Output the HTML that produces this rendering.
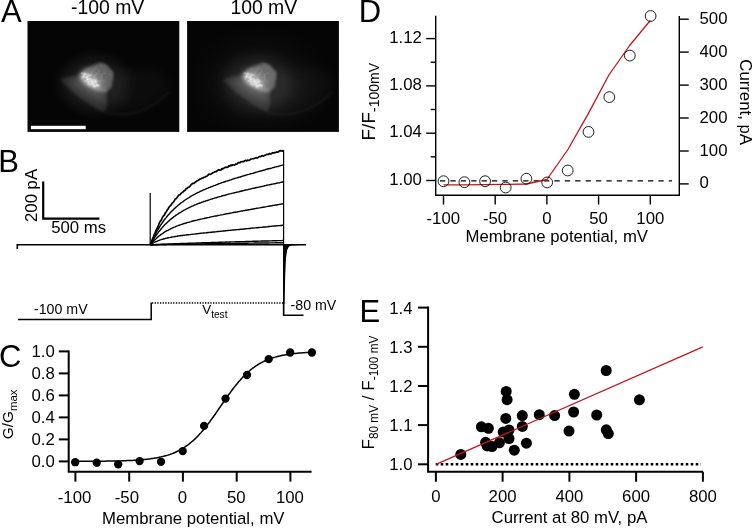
<!DOCTYPE html>
<html><head><meta charset="utf-8"><title>Figure</title>
<style>
html,body{margin:0;padding:0;background:#fff;}
body{width:754px;height:528px;overflow:hidden;}
svg{display:block;}
text{font-family:"Liberation Sans",sans-serif;fill:#000;}
.t{font-size:16.75px;}
.pl{font-size:31px;}
.ax{stroke:#000;stroke-width:2;fill:none;stroke-linecap:square;}
.axd{stroke:#000;stroke-width:1.4;fill:none;stroke-linecap:butt;}
</style></head><body>
<svg width="754" height="528" viewBox="0 0 754 528">
<defs>
<filter id="b1" x="-50%" y="-50%" width="200%" height="200%"><feGaussianBlur stdDeviation="1.2"/></filter>
<filter id="b2" x="-50%" y="-50%" width="200%" height="200%"><feGaussianBlur stdDeviation="3"/></filter>
<filter id="b3" x="-50%" y="-50%" width="200%" height="200%"><feGaussianBlur stdDeviation="7"/></filter>
<filter id="b4" x="-50%" y="-50%" width="200%" height="200%"><feGaussianBlur stdDeviation="16"/></filter>
<filter id="b5" x="-50%" y="-50%" width="200%" height="200%"><feGaussianBlur stdDeviation="1.8"/></filter>
<filter id="b6" x="-50%" y="-50%" width="200%" height="200%"><feGaussianBlur stdDeviation="0.85"/></filter>
<filter id="grain" x="-50%" y="-50%" width="200%" height="200%"><feGaussianBlur in="SourceGraphic" stdDeviation="1.2" result="sg"/><feTurbulence type="fractalNoise" baseFrequency="0.38" numOctaves="2" seed="7" result="n"/><feColorMatrix in="n" type="matrix" values="0 0 0 0 1  0 0 0 0 1  0 0 0 0 1  5 0 0 0 -1.9" result="a"/><feComposite in="a" in2="sg" operator="in" result="c"/><feGaussianBlur in="c" stdDeviation="0.45"/></filter>
<filter id="grain2" x="-50%" y="-50%" width="200%" height="200%"><feGaussianBlur in="SourceGraphic" stdDeviation="2" result="sg"/><feTurbulence type="fractalNoise" baseFrequency="0.3" numOctaves="2" seed="11" result="n"/><feColorMatrix in="n" type="matrix" values="0 0 0 0 1  0 0 0 0 1  0 0 0 0 1  4 0 0 0 -1.6" result="a"/><feComposite in="a" in2="sg" operator="in" result="c"/><feGaussianBlur in="c" stdDeviation="0.7"/></filter>
<filter id="b0" x="-50%" y="-50%" width="200%" height="200%"><feGaussianBlur stdDeviation="0.6"/></filter>
<clipPath id="c1"><rect x="27.5" y="21" width="151.8" height="110.9"/></clipPath>
<clipPath id="c2"><rect x="187.1" y="21" width="151.8" height="110.9"/></clipPath>
<g id="cell">
 <ellipse cx="95" cy="84" rx="34" ry="27" fill="#fff" opacity="0.085" filter="url(#b3)"/>
 <path d="M104.7,112.5 Q140,121 169,92 L169,75 Q140,62 113,72 Z" fill="#fff" opacity="0.03" filter="url(#b3)"/>
 <path d="M104.7,112.5 Q140,121 169,92" stroke="#fff" stroke-width="2.2" fill="none" opacity="0.045" filter="url(#b1)"/>
 <path d="M59.9,79.1 L68.5,77 L78.4,74.9 L92,80 L106.8,90 L107.2,104 L104.7,112.5 L95.5,108.2 L85.5,101.8 L72.7,92.6 L64.2,84.1 Z" fill="#fff" opacity="0.115" filter="url(#b5)"/>
 <path d="M70,80 L84,77 L105,91 L103.5,102 L88,96 L77,89 Z" fill="#fff" opacity="0.13" filter="url(#b2)"/>
 <path d="M78.4,74.1 L86.2,67.8 L99.7,62.8 L106.1,64.9 L113.2,72.7 L111.8,86.9 L106.1,92.6 L96.9,91.2 L85.5,85.5 L79.8,79.8 Z" fill="#fff" opacity="0.30" filter="url(#b5)"/>
 <path d="M99.7,63.3 L106.1,65.5 L112.6,73 L111.9,80" stroke="#fff" stroke-width="1.6" fill="none" opacity="0.14" filter="url(#b1)"/>
 <ellipse cx="92" cy="79.5" rx="13" ry="8" transform="rotate(36 92 79.5)" fill="#fff" opacity="0.26" filter="url(#b2)"/>
 <ellipse cx="90.5" cy="80.5" rx="9.5" ry="4.2" transform="rotate(38 90.5 80.5)" fill="#fff" opacity="0.30" filter="url(#b5)"/>
 <ellipse cx="90.5" cy="80.3" rx="11" ry="4.6" transform="rotate(38 90.5 80.3)" fill="#fff" opacity="0.6" filter="url(#grain)"/>
 <ellipse cx="98" cy="75" rx="11" ry="9" fill="#fff" opacity="0.10" filter="url(#grain2)"/>
 <g fill="#fff" filter="url(#b0)" opacity="0.55">
 <circle cx="82" cy="73.4" r="1.2" opacity="0.55"/>
 <circle cx="83.6" cy="76.3" r="1.0" opacity="0.55"/>
 <circle cx="81.6" cy="77.8" r="0.8" opacity="0.4"/>
 <circle cx="84.9" cy="74.1" r="0.9" opacity="0.4"/>
 <circle cx="87.2" cy="79.1" r="1.3" opacity="0.6"/>
 <circle cx="89.8" cy="81.5" r="1.5" opacity="0.7"/>
 <circle cx="88.4" cy="84.1" r="0.9" opacity="0.45"/>
 <circle cx="92.4" cy="83.2" r="1.6" opacity="0.75"/>
 <circle cx="94" cy="86" r="1.2" opacity="0.6"/>
 <circle cx="96.7" cy="84.6" r="1.3" opacity="0.6"/>
 <circle cx="99" cy="86.2" r="0.9" opacity="0.4"/>
 <circle cx="91" cy="78.6" r="0.8" opacity="0.35"/>
 <circle cx="95.2" cy="82" r="0.8" opacity="0.35"/>
 </g>
</g>
</defs>
<rect width="754" height="528" fill="#fff"/>

<g id="panelA">
<text class="pl" x="1.1" y="21.7">A</text>
<text x="107.6" y="14.3" text-anchor="middle" style="font-size:19.4px">-100 mV</text>
<text x="263.8" y="14.3" text-anchor="middle" style="font-size:19.4px">100 mV</text>
<rect x="27.5" y="21" width="151.8" height="110.9" fill="#050505"/>
<g clip-path="url(#c1)"><use href="#cell"/></g>
<rect x="30.9" y="125.8" width="54.8" height="3.4" fill="#fff"/>
<rect x="187.1" y="21" width="151.8" height="110.9" fill="#050505"/>
<g clip-path="url(#c2)"><ellipse cx="260" cy="84" rx="50" ry="38" fill="#fff" opacity="0.05" filter="url(#b4)"/><use href="#cell" x="163"/></g>
</g>
<g id="panelB">
<text class="pl" x="-1.7" y="172.1">B</text>
<path d="M43.2,181.6 V218.6 H99.4" stroke="#000" stroke-width="2.2" fill="none"/>
<text class="t" transform="translate(37.1,222) rotate(-90)">200 pA</text>
<text class="t" x="51.2" y="233.4">500 ms</text>
<path d="M150.3,244.80 L151.3,242.11 L152.3,239.52 L153.3,237.02 L154.3,234.33 L155.3,232.34 L156.3,229.92 L157.3,228.02 L158.3,225.96 L159.2,223.34 L160.2,221.34 L161.2,220.38 L162.2,217.94 L163.2,216.17 L164.2,215.33 L165.2,213.12 L166.2,211.96 L167.2,210.04 L168.2,208.76 L169.2,206.80 L170.2,205.96 L171.2,204.89 L172.2,203.23 L173.2,202.23 L174.2,200.95 L175.2,199.12 L176.1,198.75 L177.1,197.47 L178.1,196.10 L179.1,194.77 L180.1,194.69 L181.1,193.29 L182.1,192.63 L183.1,191.89 L184.1,190.82 L185.1,190.19 L186.1,188.78 L187.1,188.41 L188.1,187.23 L189.1,187.00 L190.1,186.19 L191.1,184.60 L192.0,183.93 L193.0,183.33 L194.0,183.48 L195.0,182.24 L196.0,181.81 L197.0,180.82 L198.0,180.44 L199.0,179.71 L200.0,179.09 L201.0,178.77 L202.0,178.21 L203.0,178.02 L204.0,177.24 L205.0,176.99 L206.0,176.40 L207.0,176.04 L208.0,175.20 L208.9,174.15 L209.9,174.45 L210.9,174.10 L211.9,173.57 L212.9,172.75 L213.9,172.47 L214.9,171.49 L215.9,171.74 L216.9,171.04 L217.9,170.31 L218.9,169.65 L219.9,170.12 L220.9,169.88 L221.9,168.50 L222.9,168.89 L223.9,168.09 L224.9,167.43 L225.8,167.21 L226.8,167.37 L227.8,167.13 L228.8,165.86 L229.8,166.13 L230.8,165.16 L231.8,165.55 L232.8,164.79 L233.8,165.05 L234.8,164.83 L235.8,163.98 L236.8,164.19 L237.8,163.11 L238.8,162.53 L239.8,162.79 L240.8,161.84 L241.8,161.71 L242.7,161.63 L243.7,161.55 L244.7,160.74 L245.7,160.31 L246.7,160.92 L247.7,160.01 L248.7,160.42 L249.7,160.05 L250.7,159.19 L251.7,158.99 L252.7,158.76 L253.7,158.61 L254.7,158.26 L255.7,157.94 L256.7,157.72 L257.7,157.79 L258.6,157.03 L259.6,156.67 L260.6,156.70 L261.6,155.89 L262.6,155.69 L263.6,156.16 L264.6,155.38 L265.6,155.13 L266.6,154.27 L267.6,154.44 L268.6,154.35 L269.6,153.47 L270.6,153.85 L271.6,153.60 L272.6,152.71 L273.6,153.06 L274.6,152.62 L275.5,152.59 L276.5,151.97 L277.5,152.09 L278.5,151.87 L279.5,150.82 L280.5,150.60 L281.5,151.01 L282.5,151.07 L283.5,150.03" stroke="#000" stroke-width="1.7" fill="none" stroke-linejoin="round"/>
<path d="M150.3,244.80 L151.3,242.55 L152.3,240.39 L153.3,238.31 L154.3,236.31 L155.3,234.42 L156.3,232.51 L157.3,230.75 L158.3,229.03 L159.2,227.41 L160.2,225.88 L161.2,224.29 L162.2,222.85 L163.2,221.53 L164.2,219.99 L165.2,218.81 L166.2,217.59 L167.2,216.27 L168.2,215.07 L169.2,214.07 L170.2,212.84 L171.2,211.76 L172.2,210.80 L173.2,209.87 L174.2,208.77 L175.2,207.89 L176.1,206.99 L177.1,206.24 L178.1,205.30 L179.1,204.59 L180.1,203.63 L181.1,202.89 L182.1,202.22 L183.1,201.55 L184.1,200.74 L185.1,200.00 L186.1,199.30 L187.1,198.75 L188.1,198.03 L189.1,197.56 L190.1,196.97 L191.1,196.22 L192.0,195.67 L193.0,195.23 L194.0,194.65 L195.0,194.15 L196.0,193.52 L197.0,192.95 L198.0,192.49 L199.0,192.12 L200.0,191.51 L201.0,191.06 L202.0,190.61 L203.0,190.16 L204.0,189.71 L205.0,189.39 L206.0,188.78 L207.0,188.32 L208.0,188.12 L208.9,187.70 L209.9,187.32 L210.9,186.79 L211.9,186.52 L212.9,186.13 L213.9,185.58 L214.9,185.32 L215.9,184.97 L216.9,184.57 L217.9,184.17 L218.9,183.75 L219.9,183.41 L220.9,183.03 L221.9,182.65 L222.9,182.43 L223.9,182.02 L224.9,181.81 L225.8,181.29 L226.8,181.17 L227.8,180.79 L228.8,180.52 L229.8,180.19 L230.8,179.87 L231.8,179.48 L232.8,179.03 L233.8,178.89 L234.8,178.44 L235.8,178.17 L236.8,177.95 L237.8,177.61 L238.8,177.28 L239.8,177.11 L240.8,176.73 L241.8,176.37 L242.7,176.05 L243.7,175.90 L244.7,175.52 L245.7,175.30 L246.7,174.91 L247.7,174.58 L248.7,174.38 L249.7,174.16 L250.7,173.72 L251.7,173.59 L252.7,173.33 L253.7,173.03 L254.7,172.75 L255.7,172.28 L256.7,172.15 L257.7,171.93 L258.6,171.45 L259.6,171.23 L260.6,170.96 L261.6,170.75 L262.6,170.45 L263.6,170.19 L264.6,169.99 L265.6,169.53 L266.6,169.28 L267.6,169.03 L268.6,168.76 L269.6,168.48 L270.6,168.43 L271.6,168.13 L272.6,167.68 L273.6,167.52 L274.6,167.21 L275.5,166.94 L276.5,166.69 L277.5,166.50 L278.5,166.22 L279.5,165.91 L280.5,165.61 L281.5,165.38 L282.5,165.07 L283.5,164.91" stroke="#000" stroke-width="1.4" fill="none" stroke-linejoin="round"/>
<path d="M150.3,244.80 L151.3,243.03 L152.3,241.33 L153.3,239.70 L154.3,238.18 L155.3,236.61 L156.3,235.10 L157.3,233.73 L158.3,232.43 L159.2,231.18 L160.2,229.98 L161.2,228.70 L162.2,227.64 L163.2,226.49 L164.2,225.39 L165.2,224.35 L166.2,223.38 L167.2,222.46 L168.2,221.48 L169.2,220.64 L170.2,219.74 L171.2,218.86 L172.2,218.11 L173.2,217.36 L174.2,216.49 L175.2,215.83 L176.1,215.12 L177.1,214.53 L178.1,213.88 L179.1,213.12 L180.1,212.60 L181.1,211.97 L182.1,211.28 L183.1,210.75 L184.1,210.12 L185.1,209.72 L186.1,209.16 L187.1,208.70 L188.1,208.18 L189.1,207.67 L190.1,207.21 L191.1,206.71 L192.0,206.17 L193.0,205.82 L194.0,205.28 L195.0,204.88 L196.0,204.60 L197.0,204.05 L198.0,203.66 L199.0,203.28 L200.0,203.05 L201.0,202.54 L202.0,202.15 L203.0,201.95 L204.0,201.45 L205.0,201.25 L206.0,200.88 L207.0,200.58 L208.0,200.27 L208.9,199.87 L209.9,199.60 L210.9,199.13 L211.9,198.97 L212.9,198.61 L213.9,198.35 L214.9,197.93 L215.9,197.77 L216.9,197.52 L217.9,197.05 L218.9,196.82 L219.9,196.59 L220.9,196.37 L221.9,195.98 L222.9,195.69 L223.9,195.44 L224.9,195.24 L225.8,195.01 L226.8,194.67 L227.8,194.41 L228.8,194.16 L229.8,193.89 L230.8,193.65 L231.8,193.34 L232.8,193.17 L233.8,193.02 L234.8,192.66 L235.8,192.48 L236.8,192.12 L237.8,191.99 L238.8,191.76 L239.8,191.50 L240.8,191.23 L241.8,190.99 L242.7,190.79 L243.7,190.61 L244.7,190.22 L245.7,189.98 L246.7,189.88 L247.7,189.69 L248.7,189.38 L249.7,189.14 L250.7,188.96 L251.7,188.63 L252.7,188.42 L253.7,188.19 L254.7,188.04 L255.7,187.76 L256.7,187.52 L257.7,187.40 L258.6,187.23 L259.6,186.88 L260.6,186.74 L261.6,186.46 L262.6,186.33 L263.6,186.06 L264.6,185.78 L265.6,185.56 L266.6,185.30 L267.6,185.18 L268.6,184.94 L269.6,184.69 L270.6,184.51 L271.6,184.29 L272.6,184.17 L273.6,183.83 L274.6,183.79 L275.5,183.47 L276.5,183.29 L277.5,183.05 L278.5,182.91 L279.5,182.70 L280.5,182.44 L281.5,182.21 L282.5,182.05 L283.5,181.87" stroke="#000" stroke-width="1.4" fill="none" stroke-linejoin="round"/>
<path d="M150.3,244.80 L151.3,243.60 L152.3,242.45 L153.3,241.37 L154.3,240.31 L155.3,239.40 L156.3,238.51 L157.3,237.52 L158.3,236.63 L159.2,235.82 L160.2,235.15 L161.2,234.41 L162.2,233.76 L163.2,233.07 L164.2,232.31 L165.2,231.68 L166.2,231.11 L167.2,230.53 L168.2,230.09 L169.2,229.60 L170.2,229.11 L171.2,228.50 L172.2,228.16 L173.2,227.60 L174.2,227.19 L175.2,226.84 L176.1,226.31 L177.1,225.92 L178.1,225.69 L179.1,225.22 L180.1,224.87 L181.1,224.57 L182.1,224.26 L183.1,223.80 L184.1,223.55 L185.1,223.26 L186.1,222.97 L187.1,222.62 L188.1,222.41 L189.1,222.20 L190.1,221.81 L191.1,221.57 L192.0,221.22 L193.0,220.99 L194.0,220.81 L195.0,220.45 L196.0,220.36 L197.0,220.12 L198.0,219.72 L199.0,219.65 L200.0,219.31 L201.0,219.16 L202.0,218.93 L203.0,218.61 L204.0,218.47 L205.0,218.25 L206.0,218.06 L207.0,217.74 L208.0,217.62 L208.9,217.45 L209.9,217.19 L210.9,216.95 L211.9,216.66 L212.9,216.54 L213.9,216.31 L214.9,216.18 L215.9,215.97 L216.9,215.75 L217.9,215.48 L218.9,215.37 L219.9,215.18 L220.9,214.89 L221.9,214.84 L222.9,214.60 L223.9,214.30 L224.9,214.28 L225.8,213.93 L226.8,213.78 L227.8,213.67 L228.8,213.46 L229.8,213.26 L230.8,213.09 L231.8,212.87 L232.8,212.65 L233.8,212.44 L234.8,212.24 L235.8,212.18 L236.8,212.01 L237.8,211.78 L238.8,211.64 L239.8,211.38 L240.8,211.18 L241.8,211.03 L242.7,210.94 L243.7,210.60 L244.7,210.51 L245.7,210.28 L246.7,210.20 L247.7,209.94 L248.7,209.76 L249.7,209.60 L250.7,209.45 L251.7,209.31 L252.7,209.05 L253.7,208.98 L254.7,208.65 L255.7,208.51 L256.7,208.30 L257.7,208.12 L258.6,208.08 L259.6,207.89 L260.6,207.61 L261.6,207.44 L262.6,207.31 L263.6,207.20 L264.6,207.04 L265.6,206.85 L266.6,206.65 L267.6,206.38 L268.6,206.26 L269.6,206.05 L270.6,205.94 L271.6,205.77 L272.6,205.53 L273.6,205.37 L274.6,205.30 L275.5,204.98 L276.5,204.96 L277.5,204.81 L278.5,204.65 L279.5,204.36 L280.5,204.22 L281.5,204.06 L282.5,203.90 L283.5,203.80" stroke="#000" stroke-width="1.4" fill="none" stroke-linejoin="round"/>
<path d="M150.3,244.80 L151.3,244.13 L152.3,243.52 L153.3,242.95 L154.3,242.45 L155.3,241.89 L156.3,241.53 L157.3,241.04 L158.3,240.66 L159.2,240.31 L160.2,239.85 L161.2,239.65 L162.2,239.32 L163.2,239.01 L164.2,238.74 L165.2,238.48 L166.2,238.19 L167.2,238.02 L168.2,237.72 L169.2,237.59 L170.2,237.41 L171.2,237.19 L172.2,237.02 L173.2,236.91 L174.2,236.73 L175.2,236.45 L176.1,236.40 L177.1,236.22 L178.1,235.98 L179.1,235.88 L180.1,235.72 L181.1,235.56 L182.1,235.50 L183.1,235.43 L184.1,235.21 L185.1,235.17 L186.1,235.02 L187.1,234.81 L188.1,234.80 L189.1,234.65 L190.1,234.58 L191.1,234.43 L192.0,234.32 L193.0,234.15 L194.0,234.11 L195.0,234.02 L196.0,233.90 L197.0,233.72 L198.0,233.66 L199.0,233.51 L200.0,233.35 L201.0,233.23 L202.0,233.13 L203.0,233.05 L204.0,232.94 L205.0,232.89 L206.0,232.81 L207.0,232.69 L208.0,232.56 L208.9,232.50 L209.9,232.34 L210.9,232.26 L211.9,232.21 L212.9,232.05 L213.9,231.92 L214.9,231.93 L215.9,231.80 L216.9,231.64 L217.9,231.54 L218.9,231.47 L219.9,231.38 L220.9,231.22 L221.9,231.09 L222.9,231.02 L223.9,231.01 L224.9,230.81 L225.8,230.76 L226.8,230.62 L227.8,230.52 L228.8,230.42 L229.8,230.36 L230.8,230.22 L231.8,230.10 L232.8,230.02 L233.8,229.93 L234.8,229.88 L235.8,229.72 L236.8,229.61 L237.8,229.58 L238.8,229.48 L239.8,229.43 L240.8,229.23 L241.8,229.19 L242.7,229.09 L243.7,228.93 L244.7,228.98 L245.7,228.77 L246.7,228.65 L247.7,228.62 L248.7,228.47 L249.7,228.45 L250.7,228.31 L251.7,228.17 L252.7,228.07 L253.7,228.08 L254.7,227.91 L255.7,227.90 L256.7,227.75 L257.7,227.73 L258.6,227.53 L259.6,227.43 L260.6,227.34 L261.6,227.33 L262.6,227.20 L263.6,227.06 L264.6,226.93 L265.6,226.93 L266.6,226.88 L267.6,226.72 L268.6,226.53 L269.6,226.44 L270.6,226.36 L271.6,226.28 L272.6,226.16 L273.6,226.07 L274.6,226.07 L275.5,226.01 L276.5,225.81 L277.5,225.84 L278.5,225.66 L279.5,225.62 L280.5,225.55 L281.5,225.46 L282.5,225.22 L283.5,225.17" stroke="#000" stroke-width="1.4" fill="none" stroke-linejoin="round"/>
<path d="M150.3,244.80 L151.3,244.75 L152.3,244.71 L153.3,244.66 L154.3,244.63 L155.3,244.62 L156.3,244.49 L157.3,244.47 L158.3,244.48 L159.2,244.36 L160.2,244.35 L161.2,244.30 L162.2,244.30 L163.2,244.28 L164.2,244.16 L165.2,244.18 L166.2,244.14 L167.2,244.11 L168.2,244.04 L169.2,244.04 L170.2,243.94 L171.2,243.91 L172.2,243.85 L173.2,243.87 L174.2,243.80 L175.2,243.74 L176.1,243.70 L177.1,243.72 L178.1,243.67 L179.1,243.64 L180.1,243.57 L181.1,243.55 L182.1,243.48 L183.1,243.50 L184.1,243.39 L185.1,243.40 L186.1,243.40 L187.1,243.35 L188.1,243.26 L189.1,243.24 L190.1,243.27 L191.1,243.21 L192.0,243.20 L193.0,243.17 L194.0,243.09 L195.0,243.10 L196.0,243.06 L197.0,242.98 L198.0,242.95 L199.0,242.89 L200.0,242.89 L201.0,242.91 L202.0,242.80 L203.0,242.81 L204.0,242.73 L205.0,242.70 L206.0,242.72 L207.0,242.65 L208.0,242.60 L208.9,242.58 L209.9,242.60 L210.9,242.56 L211.9,242.47 L212.9,242.46 L213.9,242.51 L214.9,242.40 L215.9,242.41 L216.9,242.36 L217.9,242.37 L218.9,242.32 L219.9,242.31 L220.9,242.25 L221.9,242.19 L222.9,242.16 L223.9,242.12 L224.9,242.16 L225.8,242.06 L226.8,242.02 L227.8,242.09 L228.8,241.98 L229.8,242.02 L230.8,241.91 L231.8,241.92 L232.8,241.87 L233.8,241.90 L234.8,241.85 L235.8,241.82 L236.8,241.81 L237.8,241.79 L238.8,241.71 L239.8,241.71 L240.8,241.66 L241.8,241.60 L242.7,241.64 L243.7,241.59 L244.7,241.59 L245.7,241.50 L246.7,241.50 L247.7,241.47 L248.7,241.47 L249.7,241.37 L250.7,241.37 L251.7,241.36 L252.7,241.29 L253.7,241.31 L254.7,241.30 L255.7,241.24 L256.7,241.24 L257.7,241.21 L258.6,241.14 L259.6,241.13 L260.6,241.16 L261.6,241.07 L262.6,241.05 L263.6,240.99 L264.6,240.98 L265.6,240.94 L266.6,240.99 L267.6,240.95 L268.6,240.93 L269.6,240.92 L270.6,240.85 L271.6,240.86 L272.6,240.79 L273.6,240.76 L274.6,240.78 L275.5,240.75 L276.5,240.73 L277.5,240.66 L278.5,240.66 L279.5,240.60 L280.5,240.63 L281.5,240.59 L282.5,240.51 L283.5,240.54" stroke="#000" stroke-width="1.4" fill="none" stroke-linejoin="round"/>
<path d="M150.3,244.80 L151.3,244.78 L152.3,244.76 L153.3,244.73 L154.3,244.68 L155.3,244.65 L156.3,244.69 L157.3,244.63 L158.3,244.63 L159.2,244.62 L160.2,244.54 L161.2,244.59 L162.2,244.52 L163.2,244.52 L164.2,244.49 L165.2,244.51 L166.2,244.49 L167.2,244.42 L168.2,244.39 L169.2,244.39 L170.2,244.38 L171.2,244.33 L172.2,244.32 L173.2,244.36 L174.2,244.33 L175.2,244.34 L176.1,244.33 L177.1,244.30 L178.1,244.23 L179.1,244.19 L180.1,244.19 L181.1,244.18 L182.1,244.17 L183.1,244.16 L184.1,244.12 L185.1,244.15 L186.1,244.08 L187.1,244.08 L188.1,244.11 L189.1,244.08 L190.1,244.01 L191.1,243.99 L192.0,244.03 L193.0,243.94 L194.0,243.93 L195.0,243.96 L196.0,243.94 L197.0,243.89 L198.0,243.86 L199.0,243.86 L200.0,243.90 L201.0,243.85 L202.0,243.89 L203.0,243.85 L204.0,243.86 L205.0,243.75 L206.0,243.75 L207.0,243.71 L208.0,243.74 L208.9,243.72 L209.9,243.67 L210.9,243.71 L211.9,243.65 L212.9,243.65 L213.9,243.63 L214.9,243.67 L215.9,243.62 L216.9,243.59 L217.9,243.55 L218.9,243.58 L219.9,243.58 L220.9,243.57 L221.9,243.58 L222.9,243.56 L223.9,243.48 L224.9,243.46 L225.8,243.51 L226.8,243.50 L227.8,243.45 L228.8,243.47 L229.8,243.43 L230.8,243.39 L231.8,243.36 L232.8,243.33 L233.8,243.38 L234.8,243.39 L235.8,243.38 L236.8,243.32 L237.8,243.33 L238.8,243.34 L239.8,243.32 L240.8,243.28 L241.8,243.25 L242.7,243.24 L243.7,243.20 L244.7,243.18 L245.7,243.22 L246.7,243.24 L247.7,243.18 L248.7,243.15 L249.7,243.13 L250.7,243.13 L251.7,243.15 L252.7,243.10 L253.7,243.14 L254.7,243.04 L255.7,243.05 L256.7,243.05 L257.7,243.03 L258.6,243.06 L259.6,243.05 L260.6,243.04 L261.6,243.00 L262.6,242.93 L263.6,242.97 L264.6,242.95 L265.6,242.93 L266.6,242.90 L267.6,242.93 L268.6,242.94 L269.6,242.84 L270.6,242.88 L271.6,242.84 L272.6,242.84 L273.6,242.87 L274.6,242.86 L275.5,242.82 L276.5,242.76 L277.5,242.82 L278.5,242.73 L279.5,242.74 L280.5,242.77 L281.5,242.71 L282.5,242.69 L283.5,242.74" stroke="#000" stroke-width="1.4" fill="none" stroke-linejoin="round"/>
<path d="M17.3,249 V244.8 H306" stroke="#000" stroke-width="1.6" fill="none"/>
<path d="M150.2,193 V245" stroke="#000" stroke-width="1.2" fill="none"/>
<path d="M283.6,150 V316" stroke="#000" stroke-width="1.2" fill="none"/>
<path d="M283.2,245 L283.6,304 L284.6,304 L285.2,275 L286,258 L287.2,250 L289,246.6 L292,245.4 L300,245 Z" fill="#000"/>
<path d="M18,319.6 H151.2 V302.6" stroke="#000" stroke-width="1.5" fill="none"/>
<path d="M152,303 H283.6" stroke="#000" stroke-width="1.3" fill="none" stroke-dasharray="1.3 1.35"/>
<path d="M283.6,303 V315.2 H303.5" stroke="#000" stroke-width="1.5" fill="none"/>
<text class="t" x="34" y="313.8" style="font-size:14.2px">-100 mV</text>
<text class="t" x="290.6" y="310.2" style="font-size:14.2px">-80 mV</text>
<text class="t" x="202.2" y="314.2" style="font-size:13.4px">V<tspan dy="3.6" style="font-size:10.2px">test</tspan></text>
</g>
<g id="panelC">
<text class="pl" x="-0.9" y="366.6">C</text>
<path class="ax" d="M68.7,351.4 V471.8 H310.6"/>
<path class="ax" d="M58.8,461.4 H68.7" style="stroke-linecap:butt"/>
<text class="t" x="54.8" y="467.1" text-anchor="end">0.0</text>
<path class="ax" d="M58.8,439.4 H68.7" style="stroke-linecap:butt"/>
<text class="t" x="54.8" y="445.1" text-anchor="end">0.2</text>
<path class="ax" d="M58.8,417.4 H68.7" style="stroke-linecap:butt"/>
<text class="t" x="54.8" y="423.1" text-anchor="end">0.4</text>
<path class="ax" d="M58.8,395.4 H68.7" style="stroke-linecap:butt"/>
<text class="t" x="54.8" y="401.1" text-anchor="end">0.6</text>
<path class="ax" d="M58.8,373.4 H68.7" style="stroke-linecap:butt"/>
<text class="t" x="54.8" y="379.1" text-anchor="end">0.8</text>
<path class="ax" d="M58.8,351.4 H68.7" style="stroke-linecap:butt"/>
<text class="t" x="54.8" y="357.1" text-anchor="end">1.0</text>
<path class="ax" d="M75.4,471.8 V481.6" style="stroke-linecap:butt"/>
<text class="t" x="74.5" y="502.6" text-anchor="middle">-100</text>
<path class="ax" d="M129.2,471.8 V481.6" style="stroke-linecap:butt"/>
<text class="t" x="126.9" y="502.6" text-anchor="middle">-50</text>
<path class="ax" d="M182.9,471.8 V481.6" style="stroke-linecap:butt"/>
<text class="t" x="182.4" y="502.6" text-anchor="middle">0</text>
<path class="ax" d="M236.7,471.8 V481.6" style="stroke-linecap:butt"/>
<text class="t" x="236.2" y="502.6" text-anchor="middle">50</text>
<path class="ax" d="M290.4,471.8 V481.6" style="stroke-linecap:butt"/>
<text class="t" x="289.9" y="502.6" text-anchor="middle">100</text>
<text class="t" x="193.3" y="523.5" text-anchor="middle">Membrane potential, mV</text>
<text class="t" transform="translate(13.4,439.2) rotate(-90)" style="font-size:15.4px">G/G<tspan dy="3.7" style="font-size:11.3px">max</tspan></text>
<path d="M75.4,461.4 L76.5,461.3 L77.6,461.3 L78.6,461.3 L79.7,461.3 L80.8,461.3 L81.9,461.3 L82.9,461.3 L84.0,461.3 L85.1,461.3 L86.2,461.3 L87.2,461.3 L88.3,461.3 L89.4,461.3 L90.5,461.3 L91.5,461.3 L92.6,461.3 L93.7,461.3 L94.8,461.3 L95.8,461.3 L96.9,461.2 L98.0,461.2 L99.1,461.2 L100.1,461.2 L101.2,461.2 L102.3,461.2 L103.4,461.2 L104.4,461.2 L105.5,461.2 L106.6,461.1 L107.7,461.1 L108.7,461.1 L109.8,461.1 L110.9,461.1 L112.0,461.1 L113.0,461.0 L114.1,461.0 L115.2,461.0 L116.3,461.0 L117.3,460.9 L118.4,460.9 L119.5,460.9 L120.6,460.9 L121.6,460.8 L122.7,460.8 L123.8,460.8 L124.9,460.7 L125.9,460.7 L127.0,460.6 L128.1,460.6 L129.2,460.6 L130.2,460.5 L131.3,460.4 L132.4,460.4 L133.5,460.3 L134.5,460.3 L135.6,460.2 L136.7,460.1 L137.8,460.1 L138.8,460.0 L139.9,459.9 L141.0,459.8 L142.1,459.7 L143.1,459.6 L144.2,459.5 L145.3,459.4 L146.4,459.3 L147.4,459.2 L148.5,459.1 L149.6,458.9 L150.7,458.8 L151.7,458.6 L152.8,458.5 L153.9,458.3 L155.0,458.1 L156.0,457.9 L157.1,457.7 L158.2,457.5 L159.2,457.3 L160.3,457.1 L161.4,456.8 L162.5,456.6 L163.6,456.3 L164.6,456.0 L165.7,455.7 L166.8,455.4 L167.8,455.1 L168.9,454.7 L170.0,454.4 L171.1,454.0 L172.2,453.6 L173.2,453.2 L174.3,452.7 L175.4,452.3 L176.5,451.8 L177.5,451.2 L178.6,450.7 L179.7,450.1 L180.8,449.6 L181.8,448.9 L182.9,448.3 L184.0,447.6 L185.1,446.9 L186.1,446.2 L187.2,445.4 L188.3,444.6 L189.3,443.8 L190.4,442.9 L191.5,442.0 L192.6,441.1 L193.7,440.1 L194.7,439.1 L195.8,438.1 L196.9,437.0 L198.0,435.9 L199.0,434.8 L200.1,433.6 L201.2,432.4 L202.2,431.2 L203.3,429.9 L204.4,428.6 L205.5,427.3 L206.6,425.9 L207.6,424.6 L208.7,423.1 L209.8,421.7 L210.8,420.2 L211.9,418.8 L213.0,417.3 L214.1,415.7 L215.2,414.2 L216.2,412.7 L217.3,411.1 L218.4,409.5 L219.4,408.0 L220.5,406.4 L221.6,404.8 L222.7,403.3 L223.8,401.7 L224.8,400.1 L225.9,398.6 L227.0,397.1 L228.1,395.5 L229.1,394.0 L230.2,392.6 L231.3,391.1 L232.3,389.7 L233.4,388.2 L234.5,386.9 L235.6,385.5 L236.7,384.2 L237.7,382.9 L238.8,381.6 L239.9,380.4 L240.9,379.2 L242.0,378.0 L243.1,376.9 L244.2,375.8 L245.2,374.7 L246.3,373.7 L247.4,372.7 L248.5,371.7 L249.6,370.8 L250.6,369.9 L251.7,369.0 L252.8,368.2 L253.9,367.4 L254.9,366.6 L256.0,365.9 L257.1,365.2 L258.1,364.5 L259.2,363.9 L260.3,363.2 L261.4,362.7 L262.4,362.1 L263.5,361.6 L264.6,361.0 L265.7,360.5 L266.8,360.1 L267.8,359.6 L268.9,359.2 L270.0,358.8 L271.1,358.4 L272.1,358.1 L273.2,357.7 L274.3,357.4 L275.4,357.1 L276.4,356.8 L277.5,356.5 L278.6,356.2 L279.6,356.0 L280.7,355.7 L281.8,355.5 L282.9,355.3 L283.9,355.1 L285.0,354.9 L286.1,354.7 L287.2,354.5 L288.2,354.3 L289.3,354.2 L290.4,354.0 L291.5,353.9 L292.6,353.7 L293.6,353.6 L294.7,353.5 L295.8,353.4 L296.9,353.3 L297.9,353.2 L299.0,353.1 L300.1,353.0 L301.1,352.9 L302.2,352.8 L303.3,352.7 L304.4,352.7 L305.4,352.6 L306.5,352.5 L307.6,352.5 L308.7,352.4 L309.8,352.4 L310.8,352.3 L311.9,352.2" stroke="#000" stroke-width="1.5" fill="none"/>
<circle cx="75.2" cy="462.2" r="4.15" fill="#000"/>
<circle cx="96.7" cy="462.7" r="4.15" fill="#000"/>
<circle cx="118.2" cy="464.3" r="4.15" fill="#000"/>
<circle cx="139.6" cy="461.1" r="4.15" fill="#000"/>
<circle cx="161.0" cy="461.8" r="4.15" fill="#000"/>
<circle cx="182.7" cy="451.1" r="4.15" fill="#000"/>
<circle cx="204.1" cy="425.9" r="4.15" fill="#000"/>
<circle cx="225.5" cy="398.6" r="4.15" fill="#000"/>
<circle cx="247.0" cy="375.0" r="4.15" fill="#000"/>
<circle cx="268.7" cy="359.1" r="4.15" fill="#000"/>
<circle cx="290.2" cy="352.5" r="4.15" fill="#000"/>
<circle cx="311.9" cy="352.5" r="4.15" fill="#000"/>
</g>
<g id="panelD">
<text class="pl" x="358.8" y="21.8">D</text>
<path class="axd" d="M435.7,15.8 V195.3 H679.3 V16"/>
<path class="axd" d="M426.2,180.5 H435.7"/>
<text class="t" x="421.8" y="184.6" text-anchor="end">1.00</text>
<path class="axd" d="M426.2,133.2 H435.7"/>
<text class="t" x="421.8" y="137.3" text-anchor="end">1.04</text>
<path class="axd" d="M426.2,85.9 H435.7"/>
<text class="t" x="421.8" y="90.0" text-anchor="end">1.08</text>
<path class="axd" d="M426.2,38.6 H435.7"/>
<text class="t" x="421.8" y="42.7" text-anchor="end">1.12</text>
<path class="axd" d="M430.7,156.8 H435.7"/>
<path class="axd" d="M430.7,109.5 H435.7"/>
<path class="axd" d="M430.7,62.2 H435.7"/>
<path class="axd" d="M443.5,195.3 V204.6"/>
<text class="t" x="443.3" y="223.8" text-anchor="middle">-100</text>
<path class="axd" d="M495.2,195.3 V204.6"/>
<text class="t" x="495.0" y="223.8" text-anchor="middle">-50</text>
<path class="axd" d="M546.9,195.3 V204.6"/>
<text class="t" x="546.9" y="223.8" text-anchor="middle">0</text>
<path class="axd" d="M598.6,195.3 V204.6"/>
<text class="t" x="598.6" y="223.8" text-anchor="middle">50</text>
<path class="axd" d="M650.3,195.3 V204.6"/>
<text class="t" x="650.3" y="223.8" text-anchor="middle">100</text>
<path class="axd" d="M679.3,183.9 H688.7"/>
<text class="t" x="699.5" y="188.4">0</text>
<path class="axd" d="M679.3,151.0 H688.7"/>
<text class="t" x="699.5" y="155.5">100</text>
<path class="axd" d="M679.3,118.0 H688.7"/>
<text class="t" x="699.5" y="122.5">200</text>
<path class="axd" d="M679.3,85.1 H688.7"/>
<text class="t" x="699.5" y="89.6">300</text>
<path class="axd" d="M679.3,52.1 H688.7"/>
<text class="t" x="699.5" y="56.6">400</text>
<path class="axd" d="M679.3,19.2 H688.7"/>
<text class="t" x="699.5" y="23.7">500</text>
<text class="t" x="556.8" y="241.7" text-anchor="middle">Membrane potential, mV</text>
<text class="t" transform="translate(740.4,59.3) rotate(90)" style="font-size:16.75px">Current, pA</text>
<text class="t" transform="translate(374.7,140.5) rotate(-90)" style="font-size:19px">F/F<tspan dy="4.2" style="font-size:14px">-100mV</tspan></text>
<path d="M440,180.9 H672" stroke="#000" stroke-width="1.1" fill="none" stroke-dasharray="5.3 5.1"/>
<path d="M443.5,184.8 L464.2,184.8 L484.9,184.6 L505.5,184.4 L526.2,184.0 L546.9,179.5 L567.6,150.0 L588.3,113.6 L608.9,75.0 L629.6,45.5 L650.3,20.5" stroke="#c4161c" stroke-width="1.3" fill="none" stroke-linejoin="round"/>
<circle cx="443.5" cy="181.2" r="5.4" fill="none" stroke="#000" stroke-width="0.88"/>
<circle cx="464.4" cy="182.2" r="5.4" fill="none" stroke="#000" stroke-width="0.88"/>
<circle cx="485.1" cy="181.2" r="5.4" fill="none" stroke="#000" stroke-width="0.88"/>
<circle cx="505.7" cy="187.5" r="5.4" fill="none" stroke="#000" stroke-width="0.88"/>
<circle cx="526.4" cy="178.7" r="5.4" fill="none" stroke="#000" stroke-width="0.88"/>
<circle cx="547.2" cy="182.4" r="5.4" fill="none" stroke="#000" stroke-width="0.88"/>
<circle cx="567.7" cy="170.5" r="5.4" fill="none" stroke="#000" stroke-width="0.88"/>
<circle cx="588.5" cy="131.9" r="5.4" fill="none" stroke="#000" stroke-width="0.88"/>
<circle cx="609.3" cy="97.1" r="5.4" fill="none" stroke="#000" stroke-width="0.88"/>
<circle cx="629.8" cy="55.6" r="5.4" fill="none" stroke="#000" stroke-width="0.88"/>
<circle cx="650.6" cy="16.0" r="5.4" fill="none" stroke="#000" stroke-width="0.88"/>
</g>
<g id="panelE">
<text class="pl" x="359.5" y="322.3">E</text>
<path class="ax" d="M428.1,307.6 V471.8 H702"/>
<path class="ax" d="M418,464.3 H428.1" style="stroke-linecap:butt"/>
<text class="t" x="412.5" y="470.3" text-anchor="end">1.0</text>
<path class="ax" d="M418,425.1 H428.1" style="stroke-linecap:butt"/>
<text class="t" x="412.5" y="431.1" text-anchor="end">1.1</text>
<path class="ax" d="M418,386.0 H428.1" style="stroke-linecap:butt"/>
<text class="t" x="412.5" y="392.0" text-anchor="end">1.2</text>
<path class="ax" d="M418,346.8 H428.1" style="stroke-linecap:butt"/>
<text class="t" x="412.5" y="352.8" text-anchor="end">1.3</text>
<path class="ax" d="M418,307.6 H428.1" style="stroke-linecap:butt"/>
<text class="t" x="412.5" y="313.6" text-anchor="end">1.4</text>
<path class="ax" d="M435.9,471.8 V481.7" style="stroke-linecap:butt"/>
<text class="t" x="435.9" y="502.3" text-anchor="middle">0</text>
<path class="ax" d="M502.6,471.8 V481.7" style="stroke-linecap:butt"/>
<text class="t" x="502.6" y="502.3" text-anchor="middle">200</text>
<path class="ax" d="M569.4,471.8 V481.7" style="stroke-linecap:butt"/>
<text class="t" x="569.4" y="502.3" text-anchor="middle">400</text>
<path class="ax" d="M636.1,471.8 V481.7" style="stroke-linecap:butt"/>
<text class="t" x="636.1" y="502.3" text-anchor="middle">600</text>
<path class="ax" d="M702.9,471.8 V481.7" style="stroke-linecap:butt"/>
<text class="t" x="702.9" y="502.3" text-anchor="middle">800</text>
<text class="t" x="569.5" y="523" text-anchor="middle">Current at 80 mV, pA</text>
<text class="t" transform="translate(374.2,449.5) rotate(-90)" style="font-size:17px">F<tspan dy="4.2" style="font-size:11.85px">80 mV</tspan><tspan dy="-4.2"> / F</tspan><tspan dy="4.2" style="font-size:11.85px">-100 mV</tspan></text>
<path d="M435.7,464.3 H701" stroke="#000" stroke-width="2.6" fill="none" stroke-dasharray="2.6 2.4"/>
<circle cx="460.8" cy="454.4" r="5.5" fill="#000"/>
<circle cx="481.4" cy="426.8" r="5.5" fill="#000"/>
<circle cx="488.4" cy="428.3" r="5.5" fill="#000"/>
<circle cx="485.6" cy="442.3" r="5.5" fill="#000"/>
<circle cx="487.1" cy="445.9" r="5.5" fill="#000"/>
<circle cx="492.0" cy="446.6" r="5.5" fill="#000"/>
<circle cx="499.4" cy="442.8" r="5.5" fill="#000"/>
<circle cx="503.2" cy="432.1" r="5.5" fill="#000"/>
<circle cx="505.8" cy="418.4" r="5.5" fill="#000"/>
<circle cx="509.0" cy="430.0" r="5.5" fill="#000"/>
<circle cx="509.0" cy="438.5" r="5.5" fill="#000"/>
<circle cx="506.2" cy="391.4" r="5.5" fill="#000"/>
<circle cx="507.1" cy="399.7" r="5.5" fill="#000"/>
<circle cx="514.3" cy="450.2" r="5.5" fill="#000"/>
<circle cx="522.3" cy="415.6" r="5.5" fill="#000"/>
<circle cx="522.3" cy="426.4" r="5.5" fill="#000"/>
<circle cx="526.4" cy="443.2" r="5.5" fill="#000"/>
<circle cx="539.3" cy="414.7" r="5.5" fill="#000"/>
<circle cx="554.6" cy="415.6" r="5.5" fill="#000"/>
<circle cx="569.0" cy="431.1" r="5.5" fill="#000"/>
<circle cx="573.6" cy="412.0" r="5.5" fill="#000"/>
<circle cx="574.4" cy="394.3" r="5.5" fill="#000"/>
<circle cx="596.7" cy="415.0" r="5.5" fill="#000"/>
<circle cx="606.2" cy="370.5" r="5.5" fill="#000"/>
<circle cx="606.3" cy="429.8" r="5.5" fill="#000"/>
<circle cx="608.3" cy="433.6" r="5.5" fill="#000"/>
<circle cx="639.4" cy="399.8" r="5.5" fill="#000"/>
<path d="M436,464.3 L702.8,346.8" stroke="#c4161c" stroke-width="1.3" fill="none"/>
</g>
</svg></body></html>
